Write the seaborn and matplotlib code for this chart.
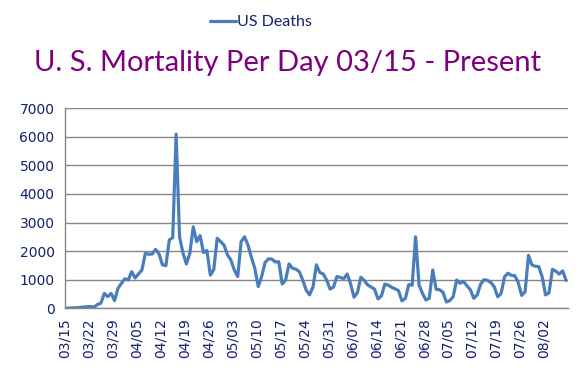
import numpy as np
import pandas as pd
import matplotlib
matplotlib.use('Agg')
import matplotlib.pyplot as plt
import seaborn as sns

# daily US deaths, 03/15 .. 08/08
deaths = [
    5, 10, 15, 20, 30, 45, 55, 60, 40, 130,
    180, 520, 410, 520, 270, 700, 870, 1030, 990, 1280,
    1060, 1200, 1340, 1920, 1890, 1900, 2060, 1900, 1520, 1490,
    2390, 2470, 6090, 2500, 1930, 1550, 1920, 2850, 2330, 2540,
    1950, 2020, 1160, 1350, 2450, 2330, 2210, 1870, 1690, 1340,
    1110, 2330, 2500, 2210, 1780, 1400, 760, 1110, 1600, 1730,
    1720, 1620, 1630, 850, 990, 1550, 1400, 1370, 1280, 990,
    640, 470, 740, 1520, 1250, 1200, 990, 670, 740, 1110,
    1080, 1030, 1200, 850, 385, 550, 1085, 970, 815, 745,
    670, 330, 430, 845, 810, 735, 680, 618, 260, 340,
    830, 805, 2500, 815, 525, 290, 350, 1340, 665, 650,
    560, 220, 270, 410, 990, 875, 940, 790, 650, 350,
    466, 840, 1000, 975, 900, 750, 400, 520, 1100, 1225,
    1150, 1140, 900, 450, 570, 1850, 1515, 1470, 1460, 1100,
    465, 540, 1360, 1300, 1195, 1310, 970,
]

tick_labels = ['03/15', '03/22', '03/29', '04/05', '04/12', '04/19', '04/26',
               '05/03', '05/10', '05/17', '05/24', '05/31', '06/07', '06/14',
               '06/21', '06/28', '07/05', '07/12', '07/19', '07/26', '08/02']

df = pd.DataFrame({'day': np.arange(len(deaths)) + 0.5, 'deaths': deaths})

sns.set_style('white')
plt.rcParams['font.family'] = ['DejaVu Sans']

navy = '#14206E'
grey = '#868686'

fig = plt.figure(figsize=(5.8, 3.89), dpi=100)
ax = fig.add_axes([0.112, 0.2075, 0.867, 0.5145])

sns.lineplot(data=df, x='day', y='deaths', ax=ax, color='#4A7EBB',
             linewidth=2.3, label='US Deaths')

ax.set_xlim(0, len(deaths))
ax.set_ylim(0, 7000)
ax.set_yticks(range(0, 7001, 1000))
ax.set_xticks(np.arange(0, len(deaths) + 1, 7))
ax.set_xticklabels(tick_labels + [''], rotation=90)
ax.set_xlabel('')
ax.set_ylabel('')

ax.grid(axis='y', color=grey, linewidth=1)
ax.set_axisbelow(True)
for s in ['top', 'right']:
    ax.spines[s].set_visible(False)
for s in ['left', 'bottom']:
    ax.spines[s].set_color(grey)
    ax.spines[s].set_linewidth(1)
ax.tick_params(axis='both', colors=grey, labelcolor=navy, labelsize=10,
               length=4, width=1, direction='out')
ax.tick_params(axis='x', pad=3)

handles, labels = ax.get_legend_handles_labels()
ax.get_legend().remove()
fig.legend(handles, labels, loc='center', bbox_to_anchor=(0.45, 0.943),
           frameon=False, handlelength=1.6, handletextpad=0.1,
           prop={'family': 'Lato', 'size': 11.5}, labelcolor=navy)

fig.text(0.495, 0.838, 'U. S. Mortality Per Day 03/15 - Present',
         ha='center', va='center', color='#7F007F', fontsize=21,
         family='Lato')

fig.savefig('out.png', dpi=100)
